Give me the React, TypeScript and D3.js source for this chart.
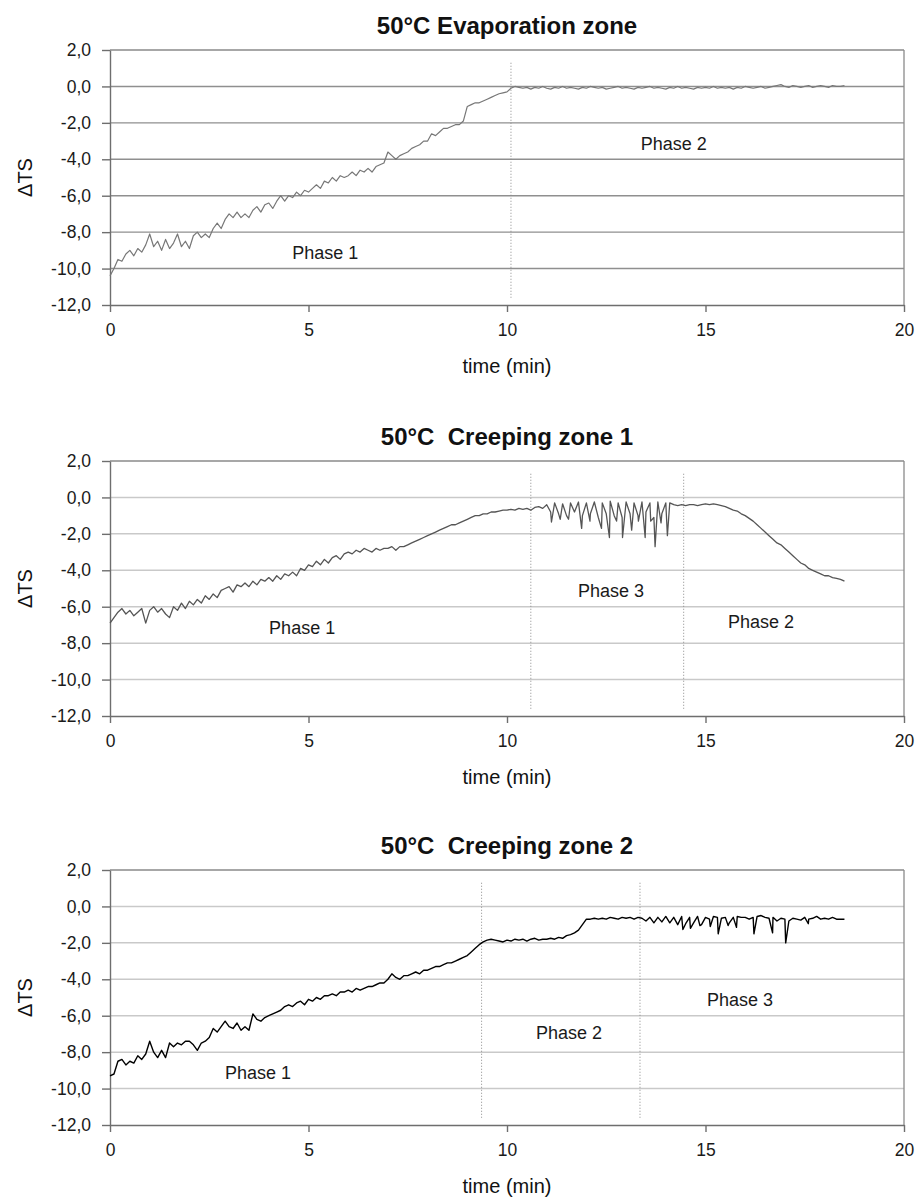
import * as d3 from 'd3';
import React, { useRef, useEffect } from 'react';

const timeStep = 0.1;
const xTicks = [0, 5, 10, 15, 20];
const yTicks = [2, 0, -2, -4, -6, -8, -10, -12];

const titles = ['50°C Evaporation zone', '50°C  Creeping zone 1', '50°C  Creeping zone 2'];

const evapValues = [
  -10.4, -10.0, -9.5, -9.6, -9.2, -9.0, -9.3, -8.9, -9.1, -8.7,
  -8.1, -8.8, -8.5, -9.0, -8.4, -8.9, -8.6, -8.1, -8.8, -8.5,
  -8.9, -8.2, -8.0, -8.3, -8.1, -8.3, -7.8, -7.5, -7.8, -7.3,
  -7.0, -7.2, -6.9, -7.2, -7.0, -7.2, -6.8, -6.6, -6.9, -6.5,
  -6.4, -6.7, -6.3, -6.0, -6.3, -6.0, -6.1, -5.8, -6.0, -5.7,
  -5.8, -5.6, -5.4, -5.6, -5.2, -5.3, -5.0, -5.2, -4.9, -5.0,
  -4.9, -4.7, -4.9, -4.6, -4.7, -4.5, -4.7, -4.4, -4.3, -4.2,
  -3.6, -3.8, -4.0, -3.8, -3.7, -3.6, -3.4, -3.3, -3.2, -3.0,
  -3.0, -2.6, -2.7, -2.5, -2.3, -2.3, -2.2, -2.1, -2.1, -1.9,
  -1.1, -1.0, -0.9, -0.9, -0.8, -0.7, -0.6, -0.5, -0.4, -0.35,
  -0.3, -0.1, 0.0, -0.05, -0.1, -0.05, -0.15, -0.05, -0.1, 0.0,
  -0.1, -0.15, -0.05, -0.1, 0.0, -0.1, -0.05, -0.1, -0.15, -0.05,
  -0.1, 0.0, -0.05, -0.1, -0.05, -0.15, -0.1, -0.05, 0.0, -0.1,
  -0.05, -0.1, -0.15, -0.05, -0.1, -0.05, 0.0, -0.1, -0.05, -0.1,
  -0.15, -0.05, -0.1, 0.0, -0.1, -0.05, -0.1, -0.15, -0.05, -0.1,
  -0.05, -0.1, 0.0, -0.1, -0.05, -0.1, -0.05, -0.15, -0.05, -0.1,
  0.0, -0.05, -0.1, -0.05, 0.0, -0.1, -0.05, 0.0, 0.05, 0.1,
  0.0, -0.05, 0.05, 0.0, -0.05, 0.0, 0.05, -0.05, 0.0, 0.05,
  0.0, -0.05, 0.05, 0.0, 0.0, 0.05
];
const evapDips = [];
const evapMarkers = [10.1];
const evapPhases = [
  { label: 'Phase 1', t: 5.42, v: -9.14 },
  { label: 'Phase 2', t: 14.2, v: -3.15 }
];

const creep1Values = [
  -6.9, -6.6, -6.3, -6.1, -6.4, -6.2, -6.5, -6.3, -6.1, -6.9,
  -6.2, -6.0, -6.3, -6.1, -6.4, -6.6, -6.0, -6.2, -5.8, -6.1,
  -5.7, -5.9, -5.6, -5.8, -5.4, -5.6, -5.3, -5.5, -5.1, -5.0,
  -4.9, -5.2, -4.8, -4.9, -4.7, -4.9, -4.6, -4.8, -4.5, -4.6,
  -4.4, -4.6, -4.3, -4.5, -4.2, -4.3, -4.1, -4.3, -3.9, -4.0,
  -3.7, -3.8, -3.5, -3.7, -3.4, -3.6, -3.3, -3.2, -3.4, -3.1,
  -3.0, -3.1, -2.9, -3.0, -2.8, -2.9, -3.0, -2.8, -2.9, -2.8,
  -2.8, -2.7, -2.9, -2.7, -2.7, -2.6, -2.5, -2.4, -2.3, -2.2,
  -2.1, -2.0, -1.9, -1.8, -1.7, -1.6, -1.5, -1.5, -1.4, -1.3,
  -1.2, -1.1, -1.0, -1.0, -0.9, -0.9, -0.8, -0.8, -0.75, -0.7,
  -0.7, -0.65, -0.7, -0.6, -0.65, -0.6, -0.7, -0.55, -0.5, -0.6,
  -0.4, -0.8, -0.3, -0.9, -0.35, -1.0, -0.3, -0.8, -0.25, -1.0,
  -0.3, -0.9, -0.25, -1.1, -0.3, -0.9, -0.2, -1.0, -0.3, -1.1,
  -0.25, -0.9, -0.3, -1.0, -0.25, -0.8, -0.3, -1.1, -0.25, -0.9,
  -0.3, -0.3, -0.4, -0.45, -0.4, -0.45, -0.4, -0.4, -0.45, -0.4,
  -0.35, -0.4, -0.35, -0.4, -0.45, -0.5, -0.6, -0.7, -0.75, -0.9,
  -1.0, -1.15, -1.3, -1.5, -1.7, -1.9, -2.1, -2.3, -2.5, -2.6,
  -2.8, -3.0, -3.2, -3.4, -3.6, -3.7, -3.9, -4.0, -4.1, -4.2,
  -4.3, -4.3, -4.4, -4.45, -4.5, -4.6
];
const creep1Dips = [
  [11.12, -1.35], [11.34, -1.2], [11.55, -1.2], [11.88, -1.7], [12.09, -1.3],
  [12.38, -1.7], [12.58, -2.2], [12.76, -1.3], [12.91, -2.2], [13.14, -1.8],
  [13.31, -1.3], [13.48, -2.2], [13.62, -1.3], [13.73, -2.7], [13.88, -1.4],
  [14.04, -2.1]
];
const creep1Markers = [10.6, 14.45];
const creep1Phases = [
  { label: 'Phase 1', t: 4.84, v: -7.14 },
  { label: 'Phase 3', t: 12.62, v: -5.11 },
  { label: 'Phase 2', t: 16.4, v: -6.81 }
];

const creep2Values = [
  -9.3, -9.2, -8.5, -8.4, -8.7, -8.5, -8.6, -8.2, -8.4, -8.1,
  -7.4, -8.0, -8.3, -7.9, -8.3, -7.5, -7.7, -7.5, -7.6, -7.4,
  -7.4, -7.6, -7.9, -7.5, -7.4, -7.2, -6.7, -6.9, -6.6, -6.3,
  -6.6, -6.7, -6.4, -6.8, -6.6, -6.8, -5.9, -6.2, -6.3, -6.1,
  -6.0, -5.9, -5.8, -5.7, -5.5, -5.4, -5.5, -5.3, -5.2, -5.4,
  -5.1, -5.2, -5.0, -5.1, -4.9, -4.9, -4.8, -4.9, -4.7, -4.7,
  -4.6, -4.7, -4.5, -4.6, -4.5, -4.4, -4.4, -4.3, -4.2, -4.2,
  -4.0, -3.7, -3.9, -4.0, -3.8, -3.8, -3.7, -3.6, -3.7, -3.5,
  -3.5, -3.4, -3.3, -3.3, -3.2, -3.1, -3.1, -3.0, -2.9, -2.8,
  -2.7, -2.5, -2.3, -2.1, -1.95, -1.85, -1.8, -1.85, -1.9, -1.95,
  -1.85, -1.9, -1.8, -1.85, -1.8, -1.9, -1.8, -1.75, -1.85, -1.8,
  -1.8, -1.75, -1.8, -1.7, -1.75, -1.6, -1.55, -1.45, -1.3, -1.0,
  -0.7, -0.7, -0.65, -0.7, -0.65, -0.7, -0.6, -0.65, -0.7, -0.6,
  -0.65, -0.6, -0.7, -0.6, -0.65, -0.8, -0.6, -0.9, -0.6, -0.85,
  -0.55, -0.9, -0.6, -1.0, -0.55, -0.95, -0.6, -0.9, -0.55, -1.0,
  -0.6, -0.7, -0.55, -0.6, -0.65, -0.6, -0.9, -0.6, -0.55, -0.6,
  -0.6, -0.7, -0.6, -0.55, -0.5, -0.6, -0.65, -0.6, -0.8, -0.65,
  -0.7, -0.8, -0.65, -0.7, -0.75, -0.6, -0.7, -0.65, -0.55, -0.7,
  -0.65, -0.7, -0.6, -0.7, -0.7, -0.7
];
const creep2Dips = [
  [14.43, -1.27], [14.62, -1.2], [14.86, -1.05], [15.12, -1.1], [15.32, -1.5],
  [15.57, -1.05], [15.78, -1.15], [16.22, -1.5], [16.69, -1.45], [17.02, -2.0],
  [17.59, -0.95]
];
const creep2Markers = [9.36, 13.35];
const creep2Phases = [
  { label: 'Phase 1', t: 3.73, v: -9.12 },
  { label: 'Phase 2', t: 11.56, v: -6.9 },
  { label: 'Phase 3', t: 15.87, v: -5.1 }
];

function Chart({ width, height }) {
  const ref = useRef();

  const font = 'Liberation Sans, Arial, sans-serif';
  const margin = { left: 110, right: 13 };
  const plotHeight = 255;

  useEffect(() => {
    draw();
  });

  const draw = () => {
    const svg = d3.select(ref.current)
      .attr('width', width)
      .attr('height', height);
    svg.selectAll('*').remove();

    const comma = d3.formatLocale({ decimal: ',', thousands: '.', grouping: [3], currency: ['', ''], minus: '-' });
    const fmt = comma.format('.1f');

    const panels = [
      { top: 50, values: evapValues, dips: evapDips, markers: evapMarkers, phases: evapPhases, color: '#777777', lineW: 1.2, grid: '#8f8f8f', gridW: 1.4 },
      { top: 461, values: creep1Values, dips: creep1Dips, markers: creep1Markers, phases: creep1Phases, color: '#555555', lineW: 1.3, grid: '#c9c9c9', gridW: 1.5 },
      { top: 870, values: creep2Values, dips: creep2Dips, markers: creep2Markers, phases: creep2Phases, color: '#000000', lineW: 1.4, grid: '#c9c9c9', gridW: 1.5 }
    ];

    var x = d3.scaleLinear()
      .domain([0, 20])
      .range([margin.left, width - margin.right]);

    panels.forEach((p, i) => {
      var y = d3.scaleLinear()
        .domain([-12, 2])
        .range([p.top + plotHeight, p.top]);

      const g = svg.append('g');

      // horizontal gridlines
      g.selectAll('.grid')
        .data(yTicks.filter(v => v > -12))
        .enter()
        .append('line')
        .attr('x1', x(0))
        .attr('x2', x(20))
        .attr('y1', d => y(d))
        .attr('y2', d => y(d))
        .attr('stroke', d => d === 2 ? '#8a8a8a' : p.grid)
        .attr('stroke-width', p.gridW);

      // right border
      g.append('line')
        .attr('x1', x(20)).attr('x2', x(20))
        .attr('y1', y(2)).attr('y2', y(-12))
        .attr('stroke', '#8a8a8a')
        .attr('stroke-width', 1.3);

      // phase boundaries
      g.selectAll('.marker')
        .data(p.markers)
        .enter()
        .append('line')
        .attr('x1', d => x(d)).attr('x2', d => x(d))
        .attr('y1', y(1.3)).attr('y2', y(-11.6))
        .attr('stroke', '#8a8a8a')
        .attr('stroke-width', 1)
        .attr('stroke-dasharray', '1,2');

      const yAxis = d3.axisLeft(y)
        .tickValues(yTicks)
        .tickFormat(fmt)
        .tickSizeInner(8)
        .tickSizeOuter(0)
        .tickPadding(11);

      const xAxis = d3.axisBottom(x)
        .tickValues(xTicks)
        .tickFormat(d3.format('d'))
        .tickSizeInner(7)
        .tickSizeOuter(0)
        .tickPadding(12);

      const ya = g.append('g')
        .attr('transform', `translate(${x(0)},0)`)
        .call(yAxis);
      const xa = g.append('g')
        .attr('transform', `translate(0,${y(-12)})`)
        .call(xAxis);

      [ya, xa].forEach(a => {
        a.selectAll('path').attr('stroke', '#6e6e6e').attr('stroke-width', 1.4);
        a.selectAll('line').attr('stroke', '#6e6e6e').attr('stroke-width', 1.4);
        a.selectAll('text')
          .style('font-family', font)
          .style('font-size', '17.5px')
          .attr('fill', '#1a1a1a');
      });

      // series
      const pts = p.values.map((v, k) => [k * timeStep, v])
        .concat(p.dips)
        .sort((a, b) => a[0] - b[0]);

      const line = d3.line()
        .x(d => x(d[0]))
        .y(d => y(d[1]));

      g.append('path')
        .datum(pts)
        .attr('d', line)
        .attr('fill', 'none')
        .attr('stroke', p.color)
        .attr('stroke-width', p.lineW)
        .attr('stroke-linejoin', 'round');

      g.selectAll('.phase')
        .data(p.phases)
        .enter()
        .append('text')
        .attr('x', d => x(d.t))
        .attr('y', d => y(d.v) + 6.5)
        .attr('text-anchor', 'middle')
        .style('font-family', font)
        .style('font-size', '18px')
        .attr('fill', '#1a1a1a')
        .text(d => d.label);

      g.append('text')
        .attr('x', (x(0) + x(20)) / 2)
        .attr('y', p.top - 16)
        .attr('text-anchor', 'middle')
        .style('font-family', font)
        .style('font-size', '24px')
        .style('font-weight', 'bold')
        .style('white-space', 'pre')
        .attr('fill', '#111')
        .text(titles[i]);

      g.append('text')
        .attr('x', (x(0) + x(20)) / 2)
        .attr('y', y(-12) + 68)
        .attr('text-anchor', 'middle')
        .style('font-family', font)
        .style('font-size', '20px')
        .attr('fill', '#111')
        .text('time (min)');

      g.append('text')
        .attr('transform', `translate(32,${(y(2) + y(-12)) / 2}) rotate(-90)`)
        .attr('text-anchor', 'middle')
        .style('font-family', font)
        .style('font-size', '20px')
        .attr('fill', '#111')
        .text('ΔTS');
    });
  };

  return (
    <svg ref={ref} style={{ position: 'absolute', left: 0, top: 0, background: '#fff' }}></svg>
  );
}

export default function App() {
  return <Chart width={917} height={1199} />;
}
